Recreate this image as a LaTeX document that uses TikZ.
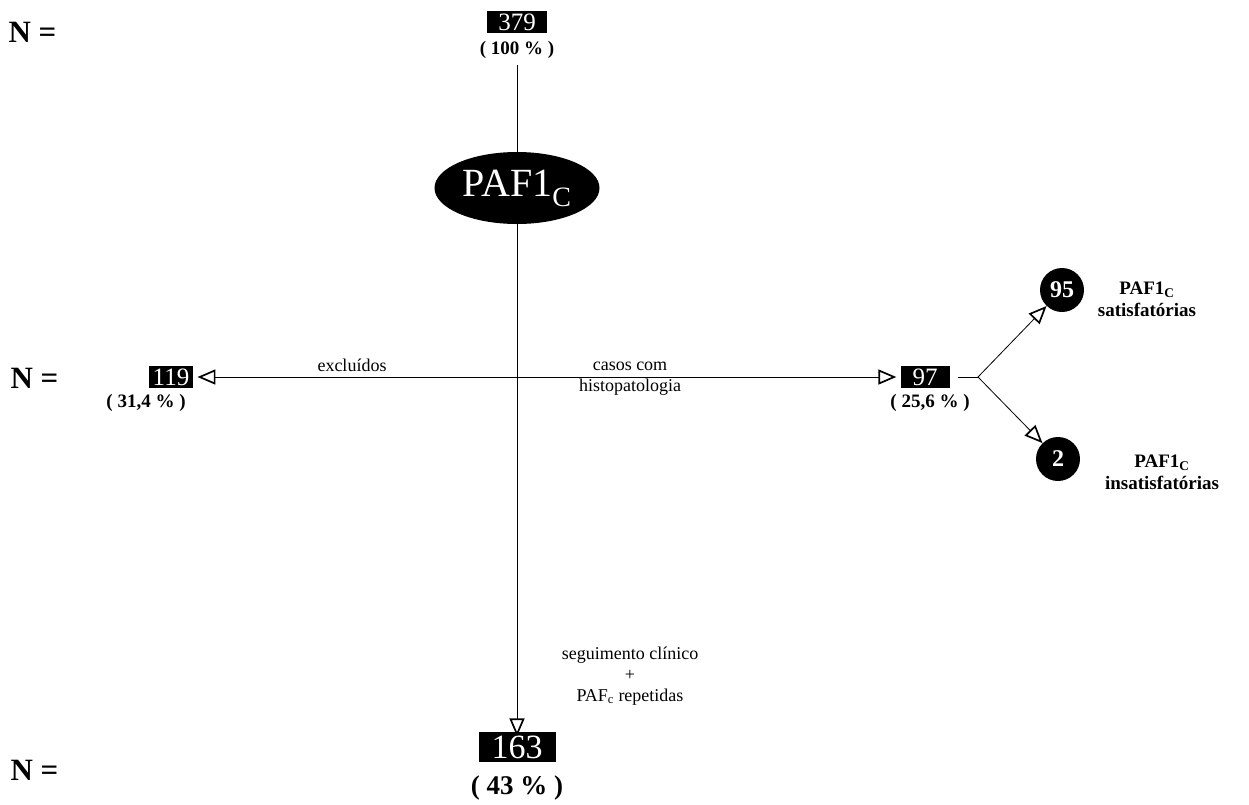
\documentclass[tikz,border=0pt]{standalone}
\usepackage{fontspec}
\setmainfont{Liberation Serif}
\usetikzlibrary{arrows.meta,shapes.geometric}
\tikzset{
  numbox/.style={fill=black,text=white,inner xsep=6pt,inner ysep=3pt,font=\fontsize{25}{26}\selectfont},
  bignum/.style={numbox,inner xsep=13pt,inner ysep=4pt,font=\fontsize{34}{35}\selectfont},
  pct/.style={font=\bfseries\fontsize{19}{21}\selectfont},
  bigpct/.style={font=\bfseries\fontsize{27}{29}\selectfont},
  nlab/.style={font=\bfseries\fontsize{31}{33}\selectfont,anchor=west},
  lab/.style={font=\fontsize{18}{21}\selectfont,align=center},
  rlab/.style={font=\bfseries\fontsize{19}{24}\selectfont,align=center},
  circ/.style={circle,fill=black,text=white,minimum size=44pt,inner sep=0pt,font=\bfseries\fontsize{24}{24}\selectfont},
  ln/.style={line width=0.8pt},
  arr/.style={ln,-{Triangle[open,length=18pt,width=15pt,line width=1.7pt]}},
}
\begin{document}
\begin{tikzpicture}[x=1pt,y=-1pt]
\useasboundingbox (0,0) rectangle (1249,804);
% N labels
\node[nlab] (n1) at (5,32) {N =};
\node[nlab] (n2) at (7,378) {N =};
\node[nlab] (n3) at (7,770) {N =};
% top
\node[numbox,inner xsep=11pt] (b379) at (517,22) {379};
\node[pct] (p379) at (517,50) {( 100 \% )};
\node[ellipse,fill=black,text=white,minimum width=165pt,minimum height=72pt,inner sep=0pt,
      font=\fontsize{40}{40}\selectfont] (paf) at (517,188) {PAF1\textsubscript{C}};
\draw[ln] ([yshift=-3pt]p379.south -| paf.north) -- (paf.north);
% bottom
\node[bignum] (b163) at (517,747) {163};
\node[bigpct] (p163) at (517,788) {( 43 \% )};
\draw[arr] (paf.south) -- ([yshift=-5pt]b163.north);
% middle left
\node[numbox,inner xsep=4pt] (b119) at (171,377) {119};
\node[pct] (p119) at (146,403) {( 31,4 \% )};
% middle right
\node[numbox,inner xsep=12pt] (b97) at (925,377) {97};
\node[pct] (p97) at (930,403) {( 25,6 \% )};
\coordinate (cross) at (517,377);
\draw[arr] (cross) -- ([xshift=4pt]b119.east);
\draw[arr] (cross) -- ([xshift=-4pt]b97.west);
\node[lab,anchor=south] (lexc) at (352,375) {excluídos};
\node[lab] (lcas) at (630,379) {casos com\\histopatologia};
\node[lab] (lseg) at (630,676) {seguimento clínico\\+\\PAF\textsubscript{c} repetidas};
% branch
\node[circ] (c95) at (1062,290) {95};
\node[circ] (c2) at (1058,459) {2};
\coordinate (fork) at (978,377);
\draw[ln] ([xshift=8pt]b97.east) -- (fork);
\draw[arr] (fork) -- (c95);
\draw[arr] (fork) -- (c2);
\node[rlab] (l95) at (1147,299) {PAF1\textsubscript{C}\\[-2pt]satisfatórias};
\node[rlab] (l2) at (1162,472) {PAF1\textsubscript{C}\\[-2pt]insatisfatórias};
\end{tikzpicture}
\end{document}
